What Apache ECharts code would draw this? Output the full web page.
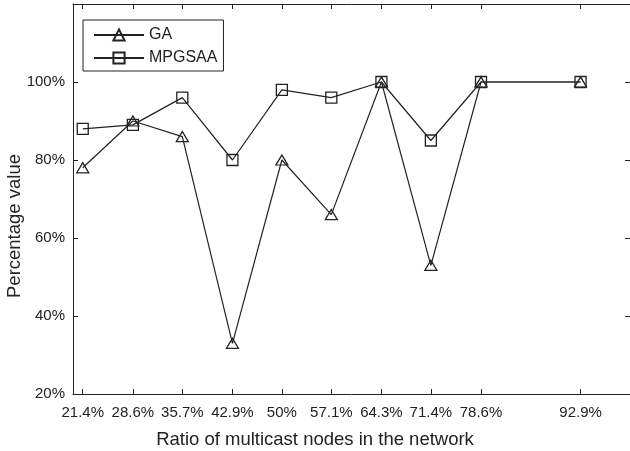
<!DOCTYPE html>
<html>
<head>
<meta charset="utf-8">
<script src="https://cdn.jsdelivr.net/npm/echarts@6/dist/echarts.min.js"></script>
<style>html,body{margin:0;padding:0;background:#fff}#c{width:630px;height:451px}</style>
</head>
<body>
<div id="c"></div>
<script>
var xValues = [21.4, 28.6, 35.7, 42.9, 50, 57.1, 64.3, 71.4, 78.6, 92.9];
var gaValues = [78, 90, 86, 33, 80, 66, 100, 53, 100, 100];
var mpgsaaValues = [88, 89, 96, 80, 98, 96, 100, 85, 100, 100];
var yTicks = [20, 40, 60, 80, 100, 120];

function pairs(vals) { return xValues.map(function (x, i) { return [x, vals[i]]; }); }

var FONT = 'Liberation Sans, Arial, sans-serif';
var INK = '#222';
var chart = echarts.init(document.getElementById('c'));
chart.setOption({
  animation: false,
  backgroundColor: '#fff',
  textStyle: { fontFamily: FONT },
  grid: { left: 73, top: 4, width: 558, height: 390 },
  legend: {
    left: 83, top: 20, orient: 'vertical',
    itemWidth: 50, itemHeight: 14, itemGap: 7,
    padding: [7, 6, 5, 10],
    borderColor: INK, borderWidth: 1,
    textStyle: { fontFamily: FONT, fontSize: 16, color: INK },
    data: ['GA', 'MPGSAA']
  },
  xAxis: [{
    type: 'value', min: 20, max: 100, position: 'bottom',
    axisLine: { lineStyle: { color: INK, width: 1 } },
    axisTick: { inside: true, length: 5, customValues: xValues, lineStyle: { color: INK } },
    axisLabel: { customValues: xValues, fontSize: 15, color: INK, margin: 11, fontFamily: FONT,
      formatter: function (v) { return v + '%'; } },
    splitLine: { show: false }
  }, {
    type: 'value', min: 20, max: 100, position: 'top',
    axisLine: { show: true, lineStyle: { color: INK, width: 1 } },
    axisTick: { inside: true, length: 5, customValues: xValues, lineStyle: { color: INK } },
    axisLabel: { show: false },
    splitLine: { show: false }
  }],
  yAxis: [{
    type: 'value', min: 20, max: 120, interval: 20, position: 'left',
    axisLine: { show: true, lineStyle: { color: INK, width: 1 } },
    axisTick: { show: true, inside: true, length: 5, lineStyle: { color: INK } },
    axisLabel: { fontSize: 15, color: INK, margin: 8, fontFamily: FONT,
      formatter: function (v) { return v === 120 ? '' : v + '%'; } },
    splitLine: { show: false }
  }, {
    type: 'value', min: 20, max: 120, interval: 20, position: 'right',
    axisLine: { show: true, lineStyle: { color: INK, width: 1 } },
    axisTick: { show: true, inside: true, length: 5, lineStyle: { color: INK } },
    axisLabel: { show: false },
    splitLine: { show: false }
  }],
  graphic: [{
    type: 'text', left: 'center', x: 0,
    style: { text: 'Ratio of multicast nodes in the network', font: '18.5px ' + FONT, fill: INK,
      x: 337, y: 440, textAlign: 'center', textVerticalAlign: 'middle' }
  }, {
    type: 'text', rotation: Math.PI / 2, x: 15, y: 226,
    style: { text: 'Percentage value', font: '18.5px ' + FONT, fill: INK,
      x: 0, y: 0, textAlign: 'center', textVerticalAlign: 'middle' }
  }],
  series: [{
    name: 'GA', type: 'line', data: pairs(gaValues),
    symbol: 'triangle', symbolSize: [12, 10], showAllSymbol: true,
    lineStyle: { color: INK, width: 1.2 },
    itemStyle: { color: 'rgba(0,0,0,0)', borderColor: INK, borderWidth: 1.3 },
    emphasis: { disabled: true }
  }, {
    name: 'MPGSAA', type: 'line', data: pairs(mpgsaaValues),
    symbol: 'rect', symbolSize: 11, showAllSymbol: true,
    lineStyle: { color: INK, width: 1.2 },
    itemStyle: { color: 'rgba(0,0,0,0)', borderColor: INK, borderWidth: 1.3 },
    emphasis: { disabled: true }
  }]
});
</script>
</body>
</html>
